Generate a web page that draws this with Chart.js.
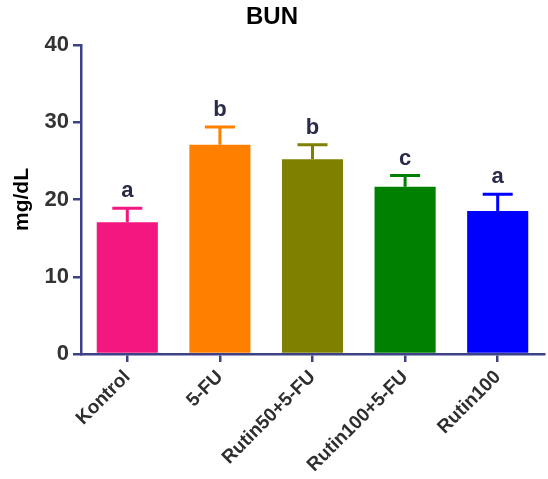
<!DOCTYPE html>
<html>
<head>
<meta charset="utf-8">
<script src="https://cdn.jsdelivr.net/npm/chart.js@4.4.1/dist/chart.umd.min.js"></script>
<style>
  html, body { margin: 0; padding: 0; background: #fff; }
  #wrap { width: 548px; height: 479px; }
</style>
</head>
<body>
<div id="wrap"><canvas id="bun"></canvas></div>
<script>
// BUN values per group (mean, SEM, significance letter)
const groups = ['Kontrol', '5-FU', 'Rutin50+5-FU', 'Rutin100+5-FU', 'Rutin100'];
const bunMean = [17.05, 27.1, 25.2, 21.65, 18.5];
const bunSem = [1.82, 2.3, 1.9, 1.45, 2.17];
const sigLetters = ['a', 'b', 'b', 'c', 'a'];
const yTicks = [0, 10, 20, 30, 40];

const barColors = ['#F3177F', '#FF8000', '#808000', '#008000', '#0000FF'];
const axisColor = '#3D4287';
const fontFamily = "'Liberation Sans', Arial, sans-serif";

// draws SEM whiskers (stem + cap) and the letters above them
const errorBars = {
  id: 'errorBars',
  afterDatasetsDraw(chart) {
    const ctx = chart.ctx;
    const yScale = chart.scales.y;
    const meta = chart.getDatasetMeta(0);
    ctx.save();
    meta.data.forEach((bar, i) => {
      const x = bar.x;
      const yBar = yScale.getPixelForValue(bunMean[i]);
      const yTop = yScale.getPixelForValue(bunMean[i] + bunSem[i]);
      ctx.strokeStyle = barColors[i];
      ctx.lineWidth = 3;
      ctx.beginPath();
      ctx.moveTo(x, yBar);
      ctx.lineTo(x, yTop);
      ctx.moveTo(x - 15, yTop);
      ctx.lineTo(x + 15, yTop);
      ctx.stroke();

      ctx.fillStyle = '#2A2B48';
      ctx.font = 'bold 22px ' + fontFamily;
      ctx.textAlign = 'center';
      ctx.textBaseline = 'alphabetic';
      ctx.fillText(sigLetters[i], x, yTop - 11);
    });
    ctx.restore();
  }
};

const ctx = document.getElementById('bun').getContext('2d');
const bunChart = new Chart(ctx, {
  type: 'bar',
  data: {
    labels: groups,
    datasets: [{
      data: bunMean,
      backgroundColor: barColors,
      borderWidth: 0,
      categoryPercentage: 1.0,
      barPercentage: 0.66
    }]
  },
  options: {
    responsive: true,
    maintainAspectRatio: false,
    animation: false,
    layout: { padding: { left: 0, right: 4, top: 0, bottom: 0 } },
    plugins: {
      legend: { display: false },
      tooltip: { enabled: false },
      title: {
        display: true,
        text: 'BUN',
        color: '#000',
        font: { family: fontFamily, size: 24, weight: 'bold' },
        padding: { top: 3, bottom: 13.2 }
      }
    },
    scales: {
      x: {
        afterFit(scale) { scale.height = 125; },
        border: { color: axisColor, width: 2.5 },
        grid: {
          offset: false,
          drawOnChartArea: false,
          drawTicks: true,
          tickLength: 8,
          color: axisColor,
          lineWidth: 2.5
        },
        ticks: {
          color: '#2E2E2E',
          font: { family: fontFamily, size: 19, weight: 'bold' },
          minRotation: 45,
          maxRotation: 45,
          autoSkip: false,
          padding: 4
        }
      },
      y: {
        min: 0,
        max: 40,
        afterFit(scale) { scale.width = 81; },
        afterBuildTicks(scale) { scale.ticks = yTicks.map(v => ({ value: v })); },
        border: { color: axisColor, width: 2.5 },
        grid: {
          drawOnChartArea: false,
          drawTicks: true,
          tickLength: 8,
          color: axisColor,
          lineWidth: 2.5
        },
        ticks: {
          color: '#333333',
          font: { family: fontFamily, size: 22, weight: 'bold' },
          padding: 4
        },
        title: {
          display: true,
          text: 'mg/dL',
          color: '#000',
          font: { family: fontFamily, size: 21, weight: 'bold' },
          padding: { top: 10, bottom: 0 }
        }
      }
    }
  },
  plugins: [errorBars]
});
</script>
</body>
</html>
